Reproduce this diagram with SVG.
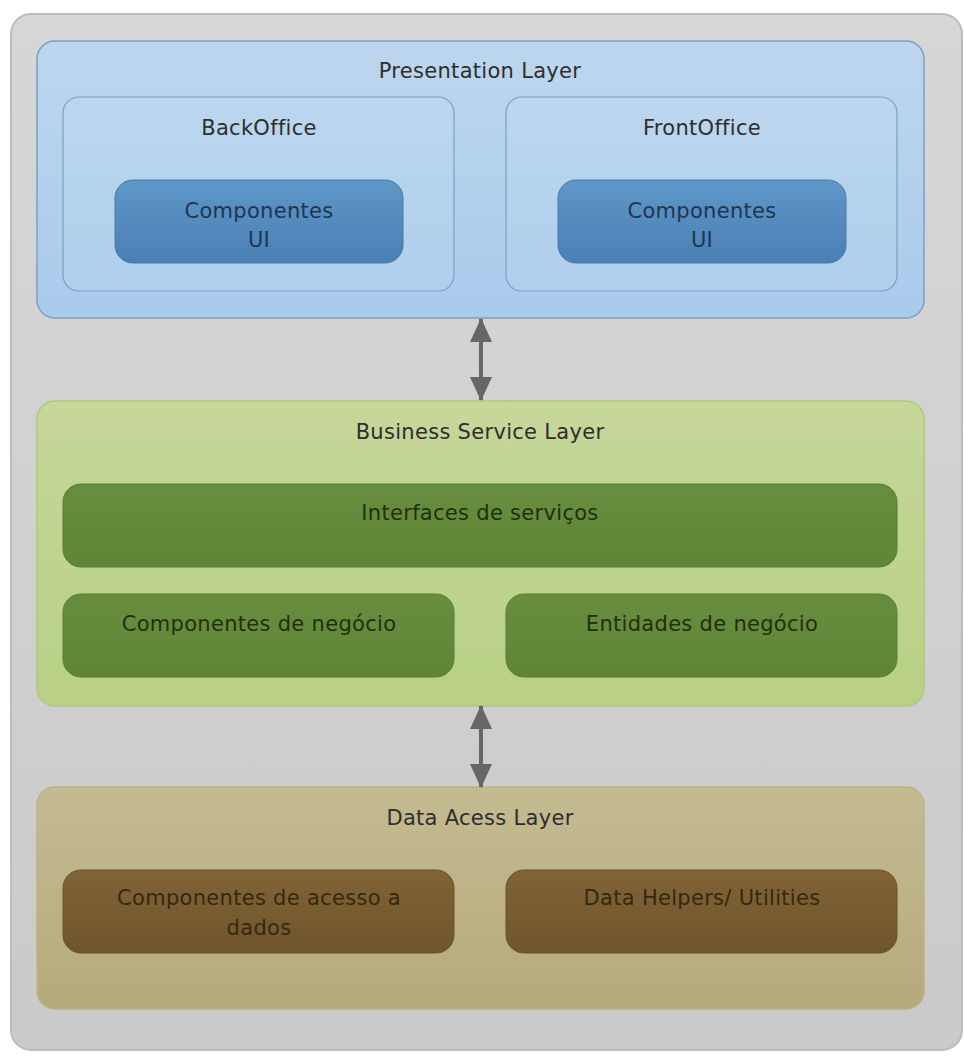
<svg xmlns="http://www.w3.org/2000/svg" width="964" height="1056" viewBox="0 0 964 1056">
  <defs>
    <linearGradient id="gOuter" x1="0" y1="0" x2="0" y2="1">
      <stop offset="0" stop-color="#d7d7d7"/>
      <stop offset="1" stop-color="#cacaca"/>
    </linearGradient>
    <linearGradient id="gPres" x1="0" y1="0" x2="0" y2="1">
      <stop offset="0" stop-color="#bdd6ee"/>
      <stop offset="1" stop-color="#a9cbec"/>
    </linearGradient>
    <linearGradient id="gOffice" x1="0" y1="0" x2="0" y2="1">
      <stop offset="0" stop-color="#bcd6ee"/>
      <stop offset="1" stop-color="#afcfed"/>
    </linearGradient>
    <linearGradient id="gUI" x1="0" y1="0" x2="0" y2="1">
      <stop offset="0" stop-color="#5f97c8"/>
      <stop offset="1" stop-color="#4a7fb3"/>
    </linearGradient>
    <linearGradient id="gBiz" x1="0" y1="0" x2="0" y2="1">
      <stop offset="0" stop-color="#c6d79a"/>
      <stop offset="1" stop-color="#b8d085"/>
    </linearGradient>
    <linearGradient id="gBizItem" x1="0" y1="0" x2="0" y2="1">
      <stop offset="0" stop-color="#678e3e"/>
      <stop offset="1" stop-color="#5e8636"/>
    </linearGradient>
    <linearGradient id="gData" x1="0" y1="0" x2="0" y2="1">
      <stop offset="0" stop-color="#c4bb92"/>
      <stop offset="1" stop-color="#b5aa7b"/>
    </linearGradient>
    <linearGradient id="gDataItem" x1="0" y1="0" x2="0" y2="1">
      <stop offset="0" stop-color="#806437"/>
      <stop offset="1" stop-color="#6f552c"/>
    </linearGradient>
    <marker id="head" viewBox="0 0 24 22" refX="23" refY="11" markerWidth="24" markerHeight="22" markerUnits="userSpaceOnUse" orient="auto-start-reverse">
      <path d="M0,0 L24,11 L0,22 Z" fill="#666666"/>
    </marker>
    <style>
      .lbl { font-family: "DejaVu Sans", "Liberation Sans", sans-serif; font-size: 21px; letter-spacing: 0.3px; fill: #2e2e2e; text-anchor: middle; }
      .uiTxt { fill: #1f3550; }
      .bizTxt { fill: #1f300e; }
      .dataTxt { fill: #35280f; }
      .layer { stroke-width: 1.5; }
      .pres { fill: url(#gPres); stroke: #7d9fc4; }
      .office { fill: url(#gOffice); stroke: #7f9fc2; stroke-width: 1.2; }
      .ui { fill: url(#gUI); stroke: #4a78a8; stroke-width: 1; }
      .biz { fill: url(#gBiz); stroke: #b0c97a; }
      .bizItem { fill: url(#gBizItem); stroke: #567e31; stroke-width: 1; }
      .data { fill: url(#gData); stroke: #bdb283; }
      .dataItem { fill: url(#gDataItem); stroke: #6a5128; stroke-width: 1; }
      .conn { stroke: #666666; stroke-width: 4; fill: none; marker-start: url(#head); marker-end: url(#head); }
    </style>
  </defs>

  <!-- outer container -->
  <g id="container">
    <rect x="11" y="14" width="951" height="1036" rx="20" fill="url(#gOuter)" stroke="#bcbcbc" stroke-width="2"/>
  </g>

  <!-- presentation layer -->
  <g id="presentation-layer">
    <rect class="layer pres" x="37" y="41" width="887" height="277" rx="18"/>
    <text class="lbl" x="480" y="78">Presentation Layer</text>
  </g>
  <g id="backoffice">
    <rect class="office" x="63" y="97" width="391" height="194" rx="16"/>
    <text class="lbl" x="259" y="135">BackOffice</text>
  </g>
  <g id="backoffice-ui">
    <rect class="ui" x="115" y="180" width="288" height="83" rx="18"/>
    <text class="lbl uiTxt" x="259" y="218">Componentes</text>
    <text class="lbl uiTxt" x="259" y="247">UI</text>
  </g>
  <g id="frontoffice">
    <rect class="office" x="506" y="97" width="391" height="194" rx="16"/>
    <text class="lbl" x="702" y="135">FrontOffice</text>
  </g>
  <g id="frontoffice-ui">
    <rect class="ui" x="558" y="180" width="288" height="83" rx="18"/>
    <text class="lbl uiTxt" x="702" y="218">Componentes</text>
    <text class="lbl uiTxt" x="702" y="247">UI</text>
  </g>

  <!-- business service layer -->
  <g id="business-layer">
    <rect class="layer biz" x="37" y="401" width="887" height="305" rx="18"/>
    <text class="lbl" x="480" y="439">Business Service Layer</text>
  </g>
  <g id="interfaces-servicos">
    <rect class="bizItem" x="63" y="484" width="834" height="83" rx="18"/>
    <text class="lbl bizTxt" x="480" y="520">Interfaces de serviços</text>
  </g>
  <g id="componentes-negocio">
    <rect class="bizItem" x="63" y="594" width="391" height="83" rx="18"/>
    <text class="lbl bizTxt" x="259" y="631">Componentes de negócio</text>
  </g>
  <g id="entidades-negocio">
    <rect class="bizItem" x="506" y="594" width="391" height="83" rx="18"/>
    <text class="lbl bizTxt" x="702" y="631">Entidades de negócio</text>
  </g>

  <!-- data access layer -->
  <g id="data-layer">
    <rect class="layer data" x="37" y="787" width="887" height="222" rx="18"/>
    <text class="lbl" x="480" y="825">Data Acess Layer</text>
  </g>
  <g id="componentes-acesso">
    <rect class="dataItem" x="63" y="870" width="391" height="83" rx="18"/>
    <text class="lbl dataTxt" x="259" y="905">Componentes de acesso a</text>
    <text class="lbl dataTxt" x="259" y="935">dados</text>
  </g>
  <g id="data-helpers">
    <rect class="dataItem" x="506" y="870" width="391" height="83" rx="18"/>
    <text class="lbl dataTxt" x="702" y="905">Data Helpers/ Utilities</text>
  </g>

  <!-- connectors -->
  <g id="connectors">
    <line class="conn" x1="481" y1="319" x2="481" y2="400"/>
    <line class="conn" x1="481" y1="706" x2="481" y2="787"/>
  </g>
</svg>
